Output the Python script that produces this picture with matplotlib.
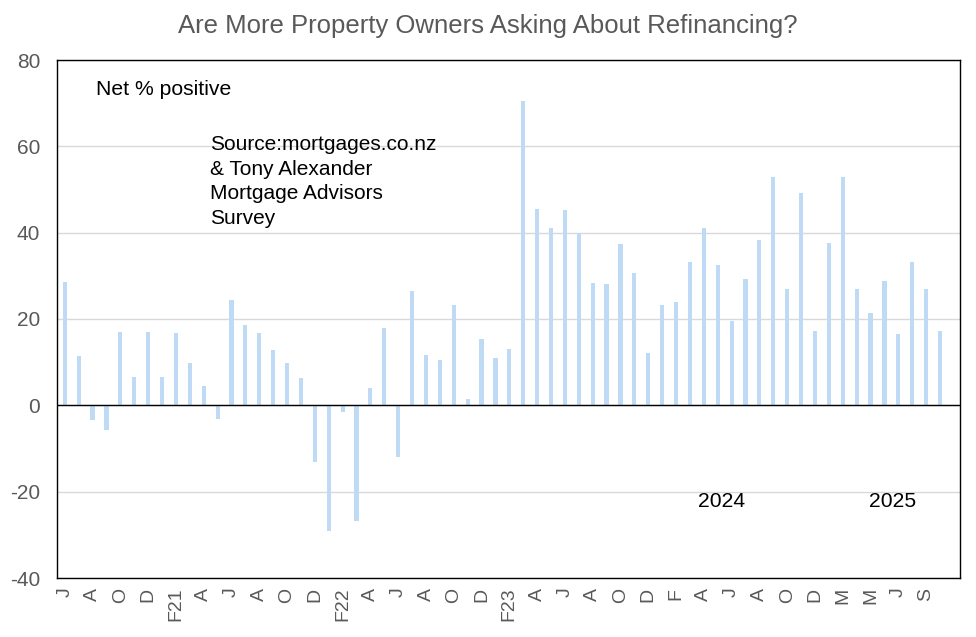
import numpy as np
import matplotlib
matplotlib.use("Agg")
import matplotlib.pyplot as plt

plt.rcParams['font.family'] = ['Liberation Sans', 'DejaVu Sans']
plt.rcParams['axes.unicode_minus'] = False

title = "Are More Property Owners Asking About Refinancing?"

values = [28.5, 11.4, -3.4, -5.7, 17.0, 6.6, 17.0, 6.6, 16.7, 9.8,
          4.5, -3.2, 24.4, 18.6, 16.7, 12.8, 9.8, 6.3, -13.1, -29.1,
          -1.5, -26.8, 4.0, 17.9, -12.0, 26.5, 11.6, 10.5, 23.2, 1.5,
          15.3, 11.0, 13.0, 70.4, 45.4, 41.0, 45.2, 40.0, 28.3, 28.1,
          37.3, 30.6, 12.1, 23.2, 23.9, 33.2, 41.0, 32.5, 19.5, 29.2,
          38.3, 52.8, 26.9, 49.1, 17.2, 37.6, 52.8, 26.9, 21.4, 28.8,
          16.5, 33.2, 26.9, 17.2]

tick_labels = ["J", "A", "O", "D", "F21", "A", "J", "A", "O", "D",
               "F22", "A", "J", "A", "O", "D", "F23", "A", "J", "A",
               "O", "D", "F", "A", "J", "A", "O", "D", "M", "M", "J", "S"]

y_ticks = [-40, -20, 0, 20, 40, 60, 80]

fig = plt.figure(figsize=(9.76, 6.37), dpi=100)
ax = fig.add_axes([57/976, 1-578/637, (960-57)/976, (578-60)/637])

x = np.arange(len(values))
ax.bar(x, values, width=0.3, color='#BFDAF5', zorder=2)
ax.axhline(0, color='black', lw=1.0, zorder=3)

ax.set_xlim(-0.56, len(values) + 0.44)
ax.set_ylim(-40, 80)
ax.set_yticks(y_ticks)
ax.set_xticks(x[::2])
ax.set_xticklabels(tick_labels, rotation=90)
ax.yaxis.grid(True, color='#D9D9D9', lw=1.0, zorder=0)
ax.set_axisbelow(True)
ax.tick_params(axis='x', length=0, pad=7, labelsize=14, labelcolor='#595959')
ax.tick_params(axis='y', length=0, pad=12, labelsize=15, labelcolor='#595959')
for s in ax.spines.values():
    s.set_color('black')
    s.set_linewidth(1.0)

ax.text(0.043, 0.944, "Net % positive", transform=ax.transAxes,
        ha='left', va='center', fontsize=15.2, color='black')
ax.text(0.1694, 0.7655, "Source:mortgages.co.nz\n& Tony Alexander\nMortgage Advisors\nSurvey",
        transform=ax.transAxes, ha='left', va='center', fontsize=15,
        color='black', linespacing=1.36)
ax.text(0.710, 0.1486, "2024", transform=ax.transAxes, ha='left', va='center',
        fontsize=15.2, color='black')
ax.text(0.899, 0.1486, "2025", transform=ax.transAxes, ha='left', va='center',
        fontsize=15.2, color='black')

fig.text(0.5, 1 - 26/637, title, ha='center', va='center', fontsize=18.5,
         color='#595959')

fig.savefig("out.png", dpi=100)
